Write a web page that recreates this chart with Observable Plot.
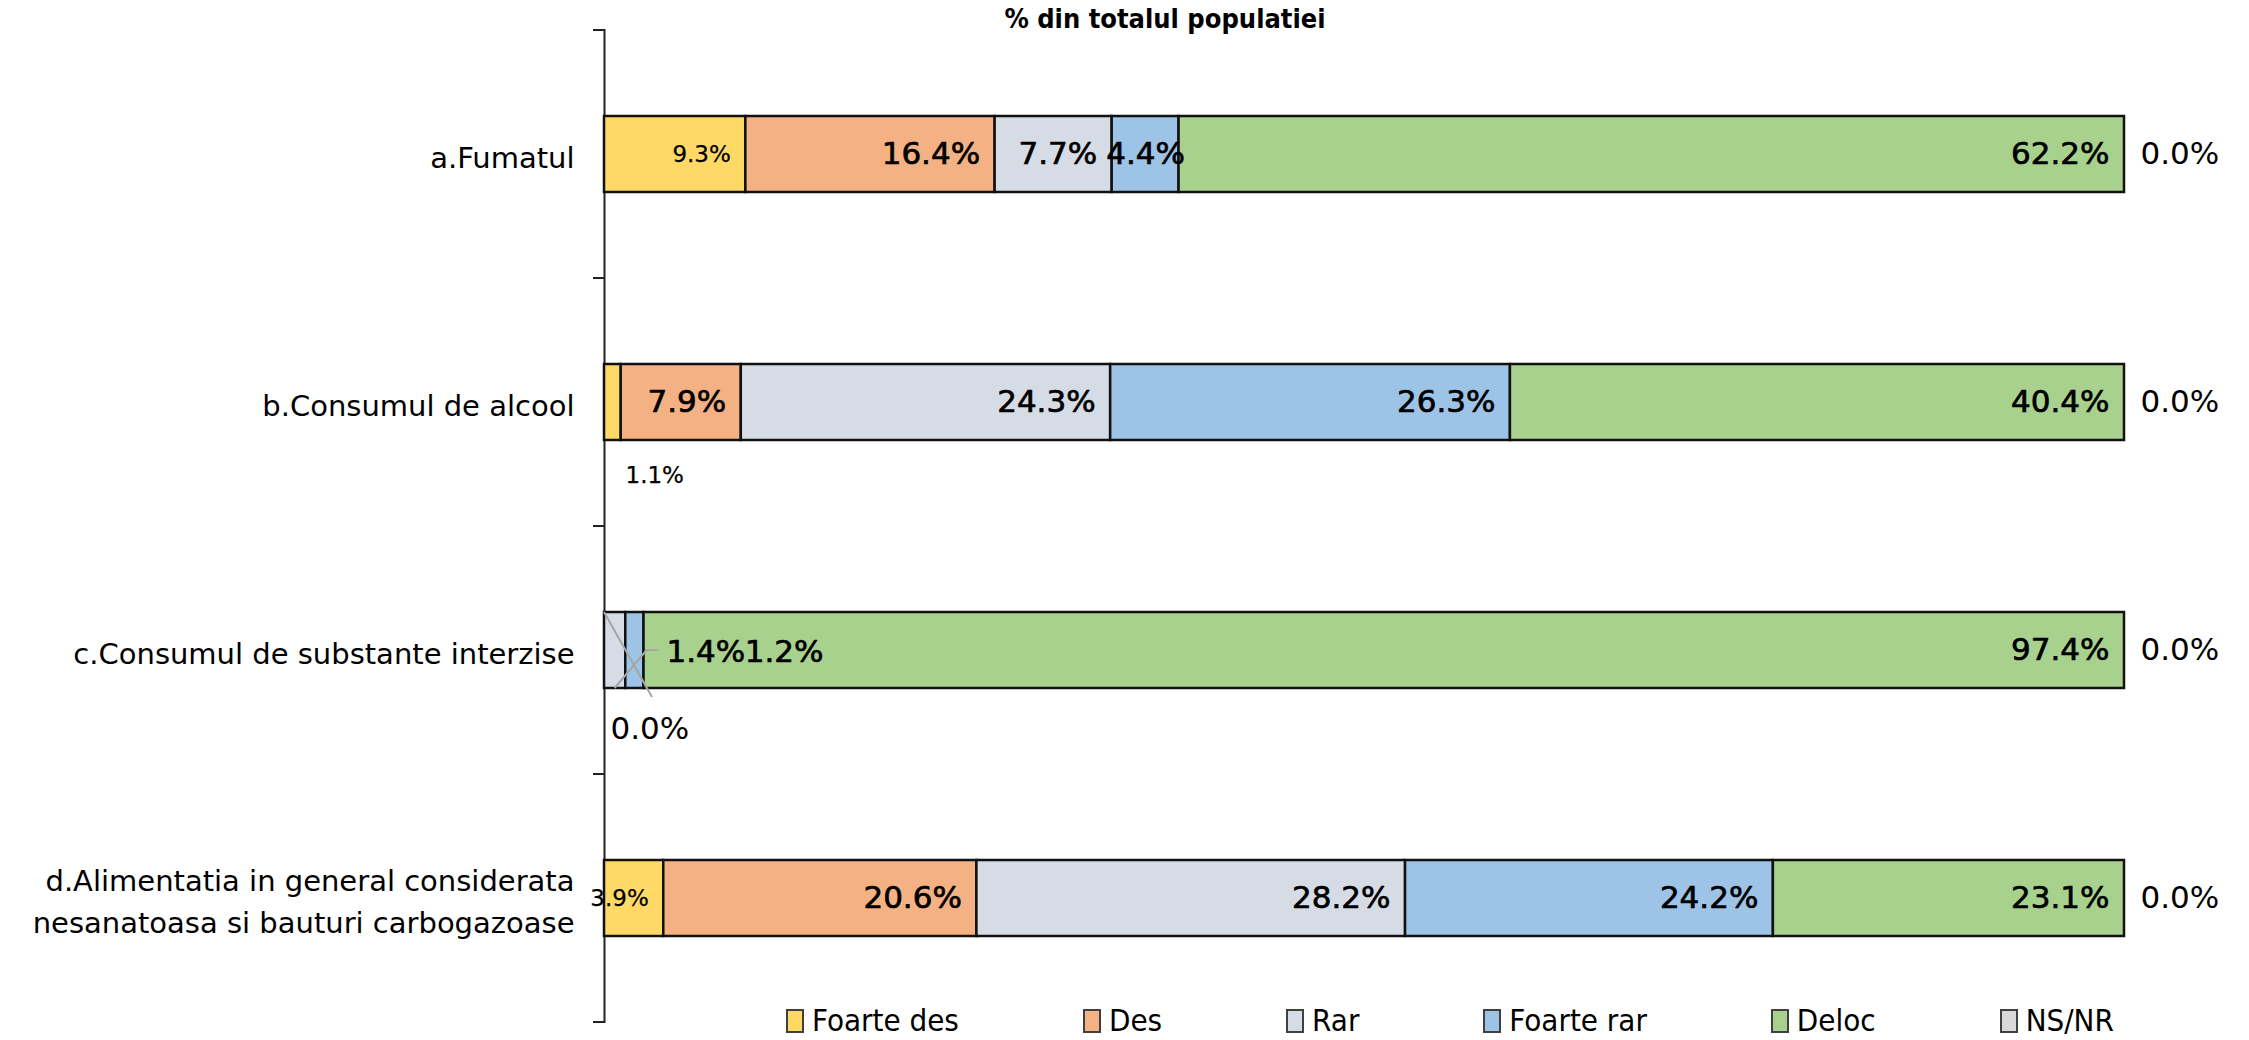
<!DOCTYPE html>
<html>
<head>
<meta charset="utf-8">
<script src="https://cdn.jsdelivr.net/npm/d3@7"></script>
<script src="https://cdn.jsdelivr.net/npm/@observablehq/plot@0.6"></script>
<style>
  html, body { margin: 0; padding: 0; background: #fff; }
  #wrap { position: relative; width: 2249px; height: 1040px; overflow: hidden; }
  #title { position: absolute; top: 3px; left: 1165px; transform: translateX(-50%);
    font-family: "DejaVu Sans Condensed", "DejaVu Sans", sans-serif; font-stretch: condensed;
    font-weight: bold; font-size: 27px; color: #000; white-space: nowrap; }
  #legend { position: absolute; left: 786px; top: 1005px; display: flex; align-items: center; gap: 124px;
    font-family: "DejaVu Sans Condensed", "DejaVu Sans", sans-serif; font-stretch: condensed;
    font-size: 31px; line-height: 1; color: #000; white-space: nowrap; }
  #legend .item { display: flex; align-items: center; gap: 8px; }
  #legend .sw { width: 14px; height: 20px; border: 2px solid #404040; box-sizing: content-box; }
  svg { position: absolute; left: 0; top: 0; }
</style>
</head>
<body>
<div id="wrap"></div>
<script>
// ---------------- data ----------------
const titleText = "% din totalul populatiei";
const categories = [
  "a.Fumatul",
  "b.Consumul de alcool",
  "c.Consumul de substante interzise",
  "d.Alimentatia in general considerata\nnesanatoasa si bauturi carbogazoase"
];
const seriesNames = ["Foarte des", "Des", "Rar", "Foarte rar", "Deloc", "NS/NR"];
const seriesColors = ["#FFD966", "#F4B183", "#D6DCE5", "#9DC3E6", "#A9D18E", "#D9D9D9"];
const foarteDes = [9.3, 1.1, 0.0, 3.9];
const des       = [16.4, 7.9, 0.0, 20.6];
const rar       = [7.7, 24.3, 1.4, 28.2];
const foarteRar = [4.4, 26.3, 1.2, 24.2];
const deloc     = [62.2, 40.4, 97.4, 23.1];
const nsnr      = [0.0, 0.0, 0.0, 0.0];
const seriesValues = [foarteDes, des, rar, foarteRar, deloc, nsnr];

// ---------------- table ----------------
const data = [];
categories.forEach((cat, ci) => {
  let acc = 0;
  seriesNames.forEach((s, si) => {
    const v = seriesValues[si][ci];
    data.push({cat, ci, series: s, value: v, x1: acc, x2: acc + v});
    acc += v;
  });
});
const fmt = v => v.toFixed(1) + "%";

// ---------------- label placement rules (styles) ----------------
const FONT = "DejaVu Sans, sans-serif";
const BIG = 31, SMALL = 23;
const sizeOf = d => d.series === "Foarte des" ? SMALL : BIG;
// callouts for very small segments: offsets in px from the segment start
const callouts = [
  {ci: 1, series: "Foarte des", dx: 21, dy: 73, size: SMALL, sw: 0.25},
  {ci: 2, series: "Des", dx: 6, dy: 79, size: BIG, sw: 0},
  {ci: 2, series: "Rar", dx: 62, dy: 2, size: BIG, sw: 0.7},
  {ci: 2, series: "Foarte rar", dx: 119, dy: 2, size: BIG, sw: 0.7}
];
const isCallout = d => d.value < 2 && d.series !== "NS/NR";
const endLabels = data.filter(d => !isCallout(d) && d.series !== "NS/NR" && !(d.value < 5 && d.series !== "Foarte des"));
const midLabels = data.filter(d => !isCallout(d) && d.series !== "NS/NR" && d.value < 5 && d.series !== "Foarte des");
const outLabels = data.filter(d => d.series === "NS/NR");

function frameExtras(index, scales) {
  const x = scales.x, y = scales.y;
  const bw = typeof y.bandwidth === "function" ? y.bandwidth() : 76;
  const step = typeof y.step === "function" ? y.step() : 248.5;
  const g = d3.create("svg:g");
  const x0 = x(0);
  const bounds = categories.map(c => y(c) - (step - bw) / 2);
  bounds.push(y(categories[categories.length - 1]) + bw + (step - bw) / 2);
  g.selectAll("line").data(bounds).join("line")
    .attr("x1", x0 - 11).attr("x2", x0)
    .attr("y1", d => d).attr("y2", d => d)
    .attr("stroke", "#222").attr("stroke-width", 2);
  // leader lines for row c
  const cat = categories[2];
  const top = y(cat), bottom = top + bw, mid = top + bw / 2;
  const rarD = data.find(d => d.ci === 2 && d.series === "Rar");
  const rx = x((rarD.x1 + rarD.x2) / 2);
  g.append("path").attr("d", `M${x0},${top}L${x0 + 48},${bottom + 9}`)
    .attr("fill", "none").attr("stroke", "#A6A6A6").attr("stroke-width", 2);
  g.append("path").attr("d", `M${rx},${bottom}L${rx + 32},${mid}h11`)
    .attr("fill", "none").attr("stroke", "#A6A6A6").attr("stroke-width", 2);
  return g.node();
}

const marks = [
  Plot.ruleX([0], {stroke: "#222", strokeWidth: 2}),
  Plot.barX(data, Plot.stackX({x: "value", y: "cat", z: "series", fill: "series",
    stroke: "#111", strokeWidth: 2.5, inset: 0})),
  Plot.text(categories, {y: d => d, text: d => d, frameAnchor: "left", textAnchor: "end", dx: -30,
    fontSize: 29, fontFamily: FONT, fill: "#000", lineHeight: 1.45}),
  ...[SMALL, BIG].map(sz => Plot.text(endLabels.filter(d => sizeOf(d) === sz),
    {x: "x2", y: "cat", text: d => fmt(d.value), textAnchor: "end", dx: -15,
     fontSize: sz, fontFamily: FONT, fill: "#000", stroke: "#000", strokeWidth: sz === SMALL ? 0.25 : 0.7})),
  Plot.text(midLabels, {x: d => (d.x1 + d.x2) / 2, y: "cat", text: d => fmt(d.value), textAnchor: "middle",
    fontSize: BIG, fontFamily: FONT, fill: "#000", stroke: "#000", strokeWidth: 0.7}),
  Plot.text(outLabels, {x: "x2", y: "cat", text: d => fmt(d.value), textAnchor: "start", dx: 16,
    fontSize: BIG, fill: "#000", fontFamily: FONT}),
  ...callouts.map(c => {
    const rows = data.filter(d => d.ci === c.ci && d.series === c.series);
    return Plot.text(rows, {x: "x1", y: "cat", text: d => fmt(d.value), textAnchor: "start",
      dx: c.dx, dy: c.dy, fontSize: c.size, fill: "#000", fontFamily: FONT,
      stroke: c.sw ? "#000" : null, strokeWidth: c.sw || undefined});
  }),
  frameExtras
];

const plot = Plot.plot({
  width: 2249, height: 1040,
  marginLeft: 604, marginRight: 125, marginTop: 29, marginBottom: 17,
  x: {domain: [0, 100], axis: null},
  y: {domain: categories, axis: null, paddingInner: 0.695, paddingOuter: 0.3475},
  color: {domain: seriesNames, range: seriesColors},
  style: {background: "transparent", overflow: "visible"},
  marks
});

const wrap = document.getElementById("wrap");
wrap.append(plot);
const title = document.createElement("div");
title.id = "title";
title.textContent = titleText;
wrap.append(title);
const legend = document.createElement("div");
legend.id = "legend";
seriesNames.forEach((s, i) => {
  const item = document.createElement("div");
  item.className = "item";
  const sw = document.createElement("span");
  sw.className = "sw";
  sw.style.background = seriesColors[i];
  const t = document.createElement("span");
  t.textContent = s;
  item.append(sw, t);
  legend.append(item);
});
wrap.append(legend);
</script>
</body>
</html>
